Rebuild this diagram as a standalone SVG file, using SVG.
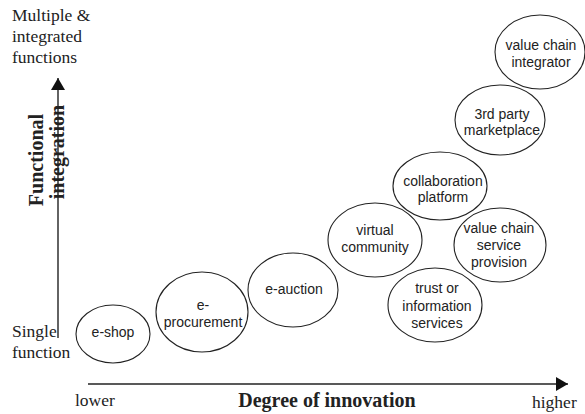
<svg xmlns="http://www.w3.org/2000/svg" width="585" height="414" viewBox="0 0 585 414">
<style>
.n{fill:none;stroke:#222;stroke-width:1.1}
.t{font-family:"Liberation Sans",Arial,sans-serif;font-size:14px;fill:#222;text-anchor:middle}
.s{font-family:"Liberation Serif","Times New Roman",serif;font-size:17.5px;fill:#222}
.b{font-family:"Liberation Serif","Times New Roman",serif;font-size:20px;font-weight:bold;fill:#222;text-anchor:middle}
.ax{stroke:#222;stroke-width:1.4;fill:none}
</style>
<defs>
<marker id="ah" viewBox="0 0 12 14" refX="12" refY="7" markerWidth="12" markerHeight="14" markerUnits="userSpaceOnUse" orient="auto">
<path d="M0,0 L12,7 L0,14 Z" fill="#111"/>
</marker>
</defs>
<rect width="585" height="414" fill="#fff"/>
<g id="connectors">
<line class="ax" x1="58" y1="338" x2="58" y2="78" marker-end="url(#ah)"/>
<line class="ax" x1="88" y1="384" x2="568" y2="384" marker-end="url(#ah)"/>
</g>
<g id="axis-labels">
<text class="s" x="12" y="21">Multiple &amp;</text>
<text class="s" x="12" y="42">integrated</text>
<text class="s" x="12" y="63">functions</text>
<text class="s" x="12" y="337">Single</text>
<text class="s" x="12" y="358">function</text>
<text class="s" x="75" y="406">lower</text>
<text class="s" x="532" y="408">higher</text>
<text class="b" x="327" y="407">Degree of innovation</text>
<text class="b" transform="translate(43,160) rotate(-90)">Functional</text>
<text class="b" transform="translate(64,152) rotate(-90)">integration</text>
</g>
<g id="e-shop"><ellipse class="n" cx="113" cy="334" rx="37" ry="29"/><text class="t" x="113" y="337">e-shop</text></g>
<g id="e-procurement"><ellipse class="n" cx="202" cy="312" rx="46" ry="40"/><text class="t" x="203" y="310">e-</text><text class="t" x="203" y="327">procurement</text></g>
<g id="e-auction"><ellipse class="n" cx="293" cy="290" rx="45" ry="37"/><text class="t" x="294" y="294">e-auction</text></g>
<g id="virtual-community"><ellipse class="n" cx="375" cy="240" rx="47" ry="37"/><text class="t" x="375" y="235">virtual</text><text class="t" x="375" y="252">community</text></g>
<g id="collaboration-platform"><ellipse class="n" cx="440" cy="186" rx="47" ry="34"/><text class="t" x="443" y="186">collaboration</text><text class="t" x="443" y="202">platform</text></g>
<g id="third-party-marketplace"><ellipse class="n" cx="500" cy="120" rx="45" ry="35"/><text class="t" x="502" y="119">3rd party</text><text class="t" x="502" y="135">marketplace</text></g>
<g id="value-chain-integrator"><ellipse class="n" cx="540" cy="52" rx="45" ry="37"/><text class="t" x="541" y="50">value chain</text><text class="t" x="541" y="67">integrator</text></g>
<g id="value-chain-service-provision"><ellipse class="n" cx="500" cy="245" rx="46" ry="37"/><text class="t" x="499" y="233">value chain</text><text class="t" x="499" y="250">service</text><text class="t" x="499" y="267">provision</text></g>
<g id="trust-or-information-services"><ellipse class="n" cx="435" cy="305" rx="47" ry="37"/><text class="t" x="437" y="293">trust or</text><text class="t" x="437" y="311">information</text><text class="t" x="437" y="328">services</text></g>
</svg>
